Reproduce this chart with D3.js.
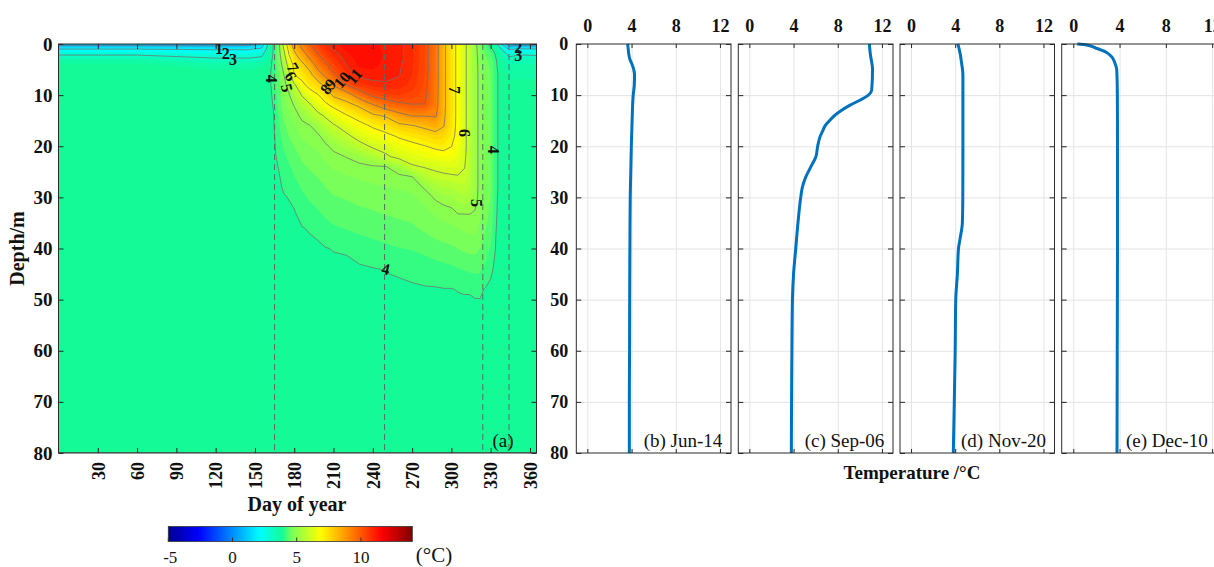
<!DOCTYPE html>
<html>
<head>
<meta charset="utf-8">
<script src="https://cdn.jsdelivr.net/npm/d3@7"></script>
<style>
  body { margin: 0; background: #fff; }
  svg { display: block; }
  text { font-family: "Liberation Serif", "Times New Roman", serif; }
  .axis path { display: none; }
  .axis line { stroke: #262626; }
  .axis text { font-family: "Liberation Serif", serif; font-size: 18px; font-weight: bold; fill: #111; }
  .grid path { display: none; }
  .grid line { stroke: #e4e4e4; }
  .frame { fill: none; stroke: #2b2b2b; stroke-width: 1; }
  .iso { fill: none; stroke: #707070; stroke-width: 0.75; }
  .clabel { font-size: 16px; font-weight: bold; fill: #111; }
  .sample { stroke: #5c6b6b; stroke-width: 1; stroke-dasharray: 6 4; }
  .profile { fill: none; stroke: #0072bd; stroke-width: 3; stroke-linejoin: round; }
  .title { font-weight: bold; fill: #111; }
  .note { fill: #111; }
</style>
</head>
<body>
<svg width="1214" height="567"></svg>
<script>
// ---- temperature field (a): one row per day, one value per depth ----
const days = [0, 60, 120, 145, 155, 160, 164, 168, 172, 176, 180, 186, 192, 198, 204, 210, 220, 230, 240,
  250, 260, 270, 280, 288, 294, 300, 305, 310, 314, 318, 322, 326, 330, 334, 338, 344, 352, 365];
const depths = [0, 1, 2, 3, 4, 6, 8, 10, 12, 14, 16, 18, 20, 22, 24, 26, 28, 30, 33, 36, 40, 44, 48, 52, 60, 80];

const tempGrid = [
  [0.5, 2.0, 2.9, 3.5, 3.8, 3.9, 3.9, 3.9, 3.9, 3.9, 3.9, 3.9, 3.9, 3.9, 3.9, 3.9, 3.9, 3.9, 3.9, 3.9, 3.9, 3.9, 3.9, 3.9, 3.9, 3.9],
  [0.5, 2.0, 2.9, 3.5, 3.8, 3.9, 3.9, 3.9, 3.9, 3.9, 3.9, 3.9, 3.9, 3.9, 3.9, 3.9, 3.9, 3.9, 3.9, 3.9, 3.9, 3.9, 3.9, 3.9, 3.9, 3.9],
  [0.5, 1.9, 2.7, 3.1, 3.6, 3.9, 3.9, 3.9, 3.9, 3.9, 3.9, 3.9, 3.9, 3.9, 3.9, 3.9, 3.9, 3.9, 3.9, 3.9, 3.9, 3.9, 3.9, 3.9, 3.9, 3.9],
  [0.6, 1.9, 2.7, 3.1, 3.6, 3.9, 3.9, 3.9, 3.9, 3.9, 3.9, 3.9, 3.9, 3.9, 3.9, 3.9, 3.9, 3.9, 3.9, 3.9, 3.9, 3.9, 3.9, 3.9, 3.9, 3.9],
  [1.1, 2.2, 2.8, 3.2, 3.7, 3.9, 3.9, 3.9, 3.9, 3.9, 3.9, 3.9, 3.9, 3.9, 3.9, 3.9, 3.9, 3.9, 3.9, 3.9, 3.9, 3.9, 3.9, 3.9, 3.9, 3.9],
  [3.05, 3.3, 3.5, 3.7, 3.8, 3.9, 3.9, 3.9, 3.9, 3.9, 3.9, 3.9, 3.9, 3.9, 3.9, 3.9, 3.9, 3.9, 3.9, 3.9, 3.9, 3.9, 3.9, 3.9, 3.9, 3.9],
  [4.01, 4.02, 4.05, 4.08, 4.1, 4.1, 4.08, 4.04, 4.01, 3.98, 3.96, 3.95, 3.94, 3.93, 3.92, 3.91, 3.9, 3.9, 3.9, 3.9, 3.9, 3.9, 3.9, 3.9, 3.9, 3.9],
  [4.7, 4.7, 4.65, 4.6, 4.55, 4.45, 4.4, 4.35, 4.3, 4.25, 4.2, 4.15, 4.1, 4.06, 4.01, 3.97, 3.95, 3.93, 3.91, 3.9, 3.9, 3.9, 3.9, 3.9, 3.9, 3.9],
  [6.3, 6.0, 5.75, 5.5, 5.3, 4.98, 4.85, 4.75, 4.65, 4.55, 4.45, 4.35, 4.28, 4.2, 4.14, 4.08, 4.03, 3.98, 3.95, 3.92, 3.9, 3.9, 3.9, 3.9, 3.9, 3.9],
  [7.6, 7.3, 7.02, 6.7, 6.4, 5.8, 5.2, 4.95, 4.85, 4.7, 4.6, 4.5, 4.4, 4.3, 4.22, 4.14, 4.07, 4.01, 3.96, 3.93, 3.91, 3.9, 3.9, 3.9, 3.9, 3.9],
  [8.4, 8.1, 7.8, 7.5, 7.25, 6.98, 5.85, 5.4, 5.02, 4.85, 4.72, 4.6, 4.5, 4.4, 4.32, 4.24, 4.15, 4.06, 3.98, 3.94, 3.92, 3.9, 3.9, 3.9, 3.9, 3.9],
  [9.3, 9.0, 8.6, 8.2, 7.8, 7.3, 6.8, 6.05, 5.55, 5.1, 4.9, 4.78, 4.66, 4.55, 4.45, 4.37, 4.28, 4.2, 4.1, 3.99, 3.94, 3.92, 3.9, 3.9, 3.9, 3.9],
  [10.02, 9.7, 9.35, 8.98, 8.45, 7.75, 7.3, 6.6, 5.9, 5.4, 4.98, 4.85, 4.74, 4.63, 4.53, 4.45, 4.37, 4.28, 4.17, 4.02, 3.95, 3.92, 3.9, 3.9, 3.9, 3.9],
  [10.5, 10.25, 9.98, 9.7, 9.4, 8.6, 7.6, 6.95, 6.4, 5.8, 5.25, 4.92, 4.8, 4.7, 4.6, 4.5, 4.42, 4.34, 4.22, 4.06, 3.96, 3.93, 3.91, 3.9, 3.9, 3.9],
  [10.95, 10.75, 10.5, 10.2, 9.9, 9.2, 8.25, 7.4, 6.85, 6.1, 5.65, 5.2, 4.93, 4.82, 4.7, 4.6, 4.5, 4.42, 4.3, 4.17, 3.99, 3.94, 3.92, 3.9, 3.9, 3.9],
  [11.2, 11.02, 10.85, 10.65, 10.45, 9.9, 9.1, 8.15, 7.15, 6.5, 5.9, 5.5, 5.1, 4.9, 4.78, 4.67, 4.57, 4.48, 4.36, 4.22, 4.01, 3.95, 3.92, 3.9, 3.9, 3.9],
  [11.35, 11.3, 11.2, 11.12, 11.02, 10.7, 10.05, 8.5, 7.7, 6.95, 6.35, 5.85, 5.4, 5.02, 4.85, 4.73, 4.62, 4.52, 4.4, 4.27, 4.02, 3.96, 3.92, 3.9, 3.9, 3.9],
  [11.4, 11.4, 11.4, 11.35, 11.3, 11.15, 10.6, 9.5, 8.15, 7.35, 6.75, 6.3, 5.75, 5.2, 4.9, 4.78, 4.67, 4.57, 4.45, 4.32, 4.1, 3.97, 3.93, 3.91, 3.9, 3.9],
  [11.4, 11.4, 11.4, 11.35, 11.3, 11.2, 10.85, 10.15, 8.9, 7.85, 7.1, 6.6, 6.1, 5.5, 4.95, 4.82, 4.71, 4.6, 4.48, 4.36, 4.15, 3.99, 3.94, 3.92, 3.9, 3.9],
  [11.1, 11.15, 11.2, 11.2, 11.2, 11.1, 10.95, 10.4, 9.5, 8.1, 7.4, 6.8, 6.25, 5.9, 4.98, 4.85, 4.74, 4.63, 4.52, 4.4, 4.2, 4.01, 3.95, 3.92, 3.9, 3.9],
  [11.1, 11.1, 11.1, 11.1, 11.05, 11.02, 10.9, 10.5, 9.8, 8.7, 7.8, 7.1, 6.6, 6.2, 5.3, 4.9, 4.78, 4.67, 4.55, 4.43, 4.24, 4.03, 3.96, 3.92, 3.9, 3.9],
  [10.8, 10.8, 10.8, 10.8, 10.8, 10.75, 10.65, 10.4, 9.95, 9.05, 7.95, 7.3, 6.8, 6.4, 5.9, 4.98, 4.82, 4.71, 4.58, 4.46, 4.27, 4.06, 3.97, 3.93, 3.9, 3.9],
  [10.25, 10.25, 10.25, 10.25, 10.25, 10.22, 10.18, 10.12, 9.98, 9.05, 8.2, 7.5, 6.98, 6.55, 6.05, 5.6, 5.05, 4.85, 4.68, 4.55, 4.33, 4.1, 3.98, 3.93, 3.9, 3.9],
  [9.4, 9.4, 9.4, 9.4, 9.4, 9.4, 9.38, 9.35, 9.3, 9.1, 8.4, 7.7, 7.15, 6.65, 6.15, 5.8, 5.4, 5.05, 4.8, 4.62, 4.4, 4.14, 3.98, 3.93, 3.9, 3.9],
  [8.2, 8.2, 8.2, 8.2, 8.2, 8.2, 8.2, 8.2, 8.2, 8.15, 8.05, 7.6, 7.2, 6.75, 6.25, 5.85, 5.5, 5.15, 4.85, 4.66, 4.43, 4.17, 3.99, 3.93, 3.9, 3.9],
  [7.4, 7.4, 7.4, 7.4, 7.4, 7.4, 7.4, 7.4, 7.4, 7.4, 7.35, 7.2, 7.02, 6.7, 6.3, 5.9, 5.55, 5.2, 4.9, 4.7, 4.46, 4.2, 3.99, 3.93, 3.9, 3.9],
  [6.8, 6.8, 6.8, 6.8, 6.8, 6.8, 6.8, 6.8, 6.8, 6.8, 6.8, 6.8, 6.7, 6.5, 6.25, 5.95, 5.65, 5.35, 5.02, 4.75, 4.5, 4.24, 4.01, 3.94, 3.9, 3.9],
  [6.15, 6.15, 6.15, 6.15, 6.15, 6.15, 6.15, 6.15, 6.15, 6.15, 6.15, 6.15, 6.15, 6.1, 6.02, 5.9, 5.7, 5.45, 5.02, 4.8, 4.55, 4.27, 4.02, 3.94, 3.9, 3.9],
  [5.7, 5.7, 5.7, 5.7, 5.7, 5.7, 5.7, 5.7, 5.7, 5.7, 5.7, 5.7, 5.7, 5.7, 5.7, 5.65, 5.55, 5.35, 5.02, 4.82, 4.57, 4.3, 4.02, 3.94, 3.9, 3.9],
  [5.2, 5.2, 5.2, 5.2, 5.2, 5.2, 5.2, 5.2, 5.2, 5.2, 5.2, 5.2, 5.2, 5.2, 5.2, 5.2, 5.2, 5.15, 4.97, 4.82, 4.58, 4.32, 4.04, 3.95, 3.9, 3.9],
  [4.6, 4.7, 4.75, 4.8, 4.82, 4.85, 4.85, 4.85, 4.85, 4.85, 4.85, 4.85, 4.85, 4.85, 4.85, 4.85, 4.85, 4.85, 4.8, 4.7, 4.5, 4.3, 4.04, 3.95, 3.9, 3.9],
  [4.2, 4.35, 4.45, 4.55, 4.6, 4.65, 4.65, 4.65, 4.65, 4.65, 4.65, 4.65, 4.65, 4.65, 4.65, 4.65, 4.65, 4.65, 4.6, 4.52, 4.38, 4.2, 3.98, 3.93, 3.9, 3.9],
  [3.8, 4.1, 4.3, 4.4, 4.45, 4.5, 4.5, 4.5, 4.5, 4.5, 4.5, 4.5, 4.5, 4.5, 4.5, 4.5, 4.5, 4.48, 4.42, 4.35, 4.22, 4.05, 3.95, 3.92, 3.9, 3.9],
  [3.3, 3.8, 3.95, 4.02, 4.05, 4.07, 4.07, 4.07, 4.07, 4.07, 4.07, 4.07, 4.07, 4.07, 4.07, 4.07, 4.07, 4.05, 4.03, 4.01, 3.98, 3.94, 3.92, 3.91, 3.9, 3.9],
  [2.0, 3.02, 3.5, 3.7, 3.8, 3.88, 3.88, 3.88, 3.88, 3.88, 3.88, 3.88, 3.88, 3.88, 3.88, 3.88, 3.88, 3.88, 3.88, 3.88, 3.88, 3.88, 3.88, 3.88, 3.88, 3.88],
  [0.4, 1.9, 2.8, 3.2, 3.5, 3.7, 3.8, 3.8, 3.8, 3.8, 3.8, 3.8, 3.8, 3.8, 3.8, 3.8, 3.8, 3.8, 3.8, 3.8, 3.8, 3.8, 3.8, 3.8, 3.8, 3.8],
  [0.5, 2.1, 2.95, 3.3, 3.55, 3.72, 3.8, 3.8, 3.8, 3.8, 3.8, 3.8, 3.8, 3.8, 3.8, 3.8, 3.8, 3.8, 3.8, 3.8, 3.8, 3.8, 3.8, 3.8, 3.8, 3.8],
  [0.4, 2.02, 2.9, 3.3, 3.5, 3.7, 3.8, 3.8, 3.8, 3.8, 3.8, 3.8, 3.8, 3.8, 3.8, 3.8, 3.8, 3.8, 3.8, 3.8, 3.8, 3.8, 3.8, 3.8, 3.8, 3.8]
];

const isoLevels = [1, 2, 3, 4, 5, 6, 7, 8, 9, 10, 11];
const dayTicks = [30, 60, 90, 120, 150, 180, 210, 240, 270, 300, 330, 360];
const depthTicks = [0, 10, 20, 30, 40, 50, 60, 70, 80];
const sampleDays = [165, 249, 324, 344];
const colorTicks = [-5, 0, 5, 10];
const tempTicks = [0, 4, 8, 12];

// contour labels: level text, day, depth, angle
const isoLabels = [
  ["1", 122.5, 0.8, 0], ["2", 127.8, 1.8, 0], ["3", 133.2, 3.1, 0],
  ["4", 163, 6.8, 90], ["7", 179, 4.6, 60], ["6", 177.5, 6.3, 60], ["5", 174.4, 8.6, 75],
  ["8", 204, 8.8, -50], ["9", 207.5, 7.8, -50], ["10", 216.4, 7.0, -50], ["11", 225.6, 6.3, -50],
  ["7", 302.8, 9.0, 90], ["6", 310.4, 17.4, 90], ["5", 319.6, 31.1, 90], ["4", 332.5, 20.7, 90],
  ["4", 250, 44, 12], ["2", 351, 0.6, 0], ["3", 351, 2.2, 0]
];

// ---- profiles (b)-(e) ----
const junDepth = [0, 1, 2, 3, 4, 5, 6, 8, 10, 15, 20, 25, 30, 40, 50, 60, 70, 80];
const junTemp = [3.65, 3.7, 3.75, 3.85, 4.05, 4.2, 4.27, 4.25, 4.15, 4.05, 3.98, 3.93, 3.88, 3.85, 3.83, 3.82, 3.8, 3.8];
const sepDepth = [0, 2, 5, 9, 10, 11, 12, 13, 14, 15, 16, 17, 18, 20, 22, 24, 26, 28, 30, 35, 40, 45, 50, 60, 70, 80];
const sepTemp = [10.86, 10.95, 11.15, 11.07, 10.77, 10.0, 9.08, 8.32, 7.7, 7.25, 6.85, 6.64, 6.42, 6.18, 6.03, 5.57, 5.11, 4.8, 4.65, 4.4, 4.2, 4.0, 3.9, 3.85, 3.82, 3.8];
const novDepth = [0, 2, 4, 6, 10, 20, 30, 35, 38, 40, 45, 50, 60, 70, 80];
const novTemp = [4.25, 4.46, 4.6, 4.7, 4.7, 4.7, 4.69, 4.65, 4.45, 4.3, 4.2, 4.05, 4.0, 3.92, 3.83];
const decDepth = [0, 0.2, 0.85, 1.5, 2.5, 3.8, 5.1, 10, 20, 40, 60, 80];
const decTemp = [0.35, 1.16, 2.02, 2.75, 3.32, 3.61, 3.76, 3.81, 3.82, 3.82, 3.8, 3.78];

const profiles = [
  { name: "(b) Jun-14", depth: junDepth, temp: junTemp },
  { name: "(c) Sep-06", depth: sepDepth, temp: sepTemp },
  { name: "(d) Nov-20", depth: novDepth, temp: novTemp },
  { name: "(e) Dec-10", depth: decDepth, temp: decTemp }
];

// ---- layout ----
const svg = d3.select("svg");
const plotTop = 44, plotBottom = 453;
const aLeft = 58.5, aRight = 536.5;

const x = d3.scaleLinear().domain([0, 365]).range([aLeft, aRight]);
const y = d3.scaleLinear().domain([0, 80]).range([plotTop, plotBottom]);

// jet-like colour map
const jet = d3.scaleLinear()
  .domain([-5, -2.625, 2.125, 3.9, 4.6, 6.875, 11.625, 14])
  .range(["#00008f", "#0000ff", "#00ffff", "#14fa96", "#78ff5a", "#ffff00", "#ff0000", "#800000"])
  .clamp(true);

const defs = svg.append("defs");
defs.append("clipPath").attr("id", "clipA")
  .append("rect")
  .attr("x", aLeft).attr("y", plotTop)
  .attr("width", aRight - aLeft).attr("height", plotBottom - plotTop);

// ---- panel (a): filled contours ----
const nx = days.length, ny = depths.length;
const values = [];
for (let j = 0; j < ny; j++) {
  for (let i = 0; i < nx; i++) values.push(tempGrid[i][j]);
}

const dayAt = d3.scaleLinear().domain(d3.range(nx)).range(days).clamp(true);
const depthAt = d3.scaleLinear().domain(d3.range(ny)).range(depths).clamp(true);
const toScreen = d3.geoTransform({
  point(px, py) {
    this.stream.point(x(dayAt(px - 0.5)), y(depthAt(py - 0.5)));
  }
});
const path = d3.geoPath(toScreen);

const plotA = svg.append("g").attr("clip-path", "url(#clipA)");

const bandLevels = d3.range(0, 11.5, 0.25);
plotA.append("g")
  .selectAll("path")
  .data(d3.contours().size([nx, ny]).thresholds(bandLevels)(values))
  .join("path")
  .attr("d", path)
  .attr("fill", d => jet(d.value + 0.125));

plotA.append("g")
  .selectAll("path")
  .data(d3.contours().size([nx, ny]).thresholds(isoLevels)(values))
  .join("path")
  .attr("class", "iso")
  .attr("d", path);

// sampling dates
plotA.append("g")
  .selectAll("line")
  .data(sampleDays)
  .join("line")
  .attr("class", "sample")
  .attr("x1", d => x(d)).attr("x2", d => x(d))
  .attr("y1", plotTop).attr("y2", plotBottom);

// contour labels
plotA.append("g")
  .selectAll("text")
  .data(isoLabels)
  .join("text")
  .attr("class", "clabel")
  .attr("text-anchor", "middle")
  .attr("dy", "0.35em")
  .attr("transform", d => `translate(${x(d[1])},${y(d[2])}) rotate(${d[3]})`)
  .text(d => d[0]);

// axes of (a)
svg.append("g")
  .attr("class", "axis")
  .attr("transform", `translate(${aLeft},0)`)
  .call(d3.axisLeft(y).tickValues(depthTicks).tickSize(-5).tickPadding(6))
  .selectAll("text").style("font-size", "19px");

svg.append("g")
  .attr("class", "axis")
  .attr("transform", `translate(${aRight},0)`)
  .call(d3.axisRight(y).tickValues(depthTicks).tickSize(-5).tickFormat(""));

svg.append("g")
  .attr("class", "axis")
  .attr("transform", `translate(0,${plotTop})`)
  .call(d3.axisTop(x).tickValues(dayTicks).tickSize(-5).tickFormat(""));

svg.append("g")
  .attr("class", "axis")
  .attr("transform", `translate(0,${plotBottom})`)
  .call(d3.axisBottom(x).tickValues(dayTicks).tickSize(-5))
  .selectAll("text")
  .attr("transform", "rotate(-90)")
  .attr("text-anchor", "end")
  .attr("x", -9)
  .attr("y", 0)
  .attr("dy", "0.35em");

svg.append("rect")
  .attr("class", "frame")
  .attr("x", aLeft).attr("y", plotTop)
  .attr("width", aRight - aLeft).attr("height", plotBottom - plotTop);

svg.append("text")
  .attr("class", "note")
  .attr("x", 503).attr("y", 447)
  .attr("text-anchor", "middle")
  .style("font-size", "19px")
  .text("(a)");

svg.append("text")
  .attr("class", "title")
  .attr("transform", `translate(24,${(plotTop + plotBottom) / 2}) rotate(-90)`)
  .attr("text-anchor", "middle")
  .style("font-size", "20px")
  .text("Depth/m");

svg.append("text")
  .attr("class", "title")
  .attr("x", 297).attr("y", 511)
  .attr("text-anchor", "middle")
  .style("font-size", "20px")
  .text("Day of year");

// ---- colour bar ----
const cb = d3.scaleLinear().domain([-5, 14]).range([168.3, 412.3]);
const cbTop = 526.5, cbBottom = 541.5;
const grad = defs.append("linearGradient").attr("id", "jetGrad");
grad.selectAll("stop")
  .data(d3.range(-5, 14.01, 0.25))
  .join("stop")
  .attr("offset", d => (d + 5) / 19)
  .attr("stop-color", d => jet(d));

svg.append("rect")
  .attr("x", cb(-5)).attr("y", cbTop)
  .attr("width", cb(14) - cb(-5)).attr("height", cbBottom - cbTop)
  .attr("fill", "url(#jetGrad)")
  .attr("stroke", "#333").attr("stroke-width", 0.8);

svg.append("g")
  .selectAll("line")
  .data(colorTicks)
  .join("line")
  .attr("x1", d => cb(d)).attr("x2", d => cb(d))
  .attr("y1", cbBottom).attr("y2", cbBottom - 4)
  .attr("stroke", "#333");

svg.append("g")
  .selectAll("text")
  .data(colorTicks)
  .join("text")
  .attr("class", "note")
  .attr("x", d => cb(d) + (d < 0 ? 2 : 0))
  .attr("y", 563)
  .attr("text-anchor", "middle")
  .style("font-size", "17px")
  .text(d => d);

svg.append("text")
  .attr("class", "note")
  .attr("x", 434).attr("y", 562)
  .attr("text-anchor", "middle")
  .style("font-size", "21px")
  .text("(\u00B0C)");

// ---- panels (b)-(e) ----
const panelLeft = [576.3, 738.3, 900, 1061.7];
const panelWidth = [154.7, 154.7, 154.5, 162];

profiles.forEach((p, k) => {
  const px = d3.scaleLinear().domain([-1, 13]).range([panelLeft[k], panelLeft[k] + panelWidth[k]]);
  const g = svg.append("g");

  // grid
  g.append("g")
    .attr("class", "grid")
    .attr("transform", `translate(0,${plotBottom})`)
    .call(d3.axisBottom(px).tickValues(tempTicks).tickSize(-(plotBottom - plotTop)).tickFormat(""));
  g.append("g")
    .attr("class", "grid")
    .attr("transform", `translate(${panelLeft[k]},0)`)
    .call(d3.axisLeft(y).tickValues(depthTicks.slice(1, -1)).tickSize(-panelWidth[k]).tickFormat(""));

  // profile
  const line = d3.line()
    .curve(d3.curveMonotoneY)
    .x(d => px(d[1]))
    .y(d => y(d[0]));
  g.append("path")
    .attr("class", "profile")
    .attr("d", line(d3.zip(p.depth, p.temp)));

  // ticks and labels
  g.append("g")
    .attr("class", "axis")
    .attr("transform", `translate(0,${plotTop})`)
    .call(d3.axisTop(px).tickValues(tempTicks).tickSize(-4).tickPadding(12));
  g.append("g")
    .attr("class", "axis")
    .attr("transform", `translate(0,${plotBottom})`)
    .call(d3.axisBottom(px).tickValues(tempTicks).tickSize(-4).tickFormat(""));
  g.append("g")
    .attr("class", "axis")
    .attr("transform", `translate(${panelLeft[k]},0)`)
    .call(d3.axisLeft(y).tickValues(depthTicks).tickSize(-5).tickPadding(8)
      .tickFormat(k === 0 ? d3.format("d") : ""));
  g.append("g")
    .attr("class", "axis")
    .attr("transform", `translate(${panelLeft[k] + panelWidth[k]},0)`)
    .call(d3.axisRight(y).tickValues(depthTicks).tickSize(-5).tickFormat(""));

  g.append("rect")
    .attr("class", "frame")
    .attr("x", panelLeft[k]).attr("y", plotTop)
    .attr("width", panelWidth[k]).attr("height", plotBottom - plotTop)
    .attr("stroke", "#555");

  g.append("text")
    .attr("class", "note")
    .attr("x", panelLeft[k] + 146)
    .attr("y", 447)
    .attr("text-anchor", "end")
    .style("font-size", "19px")
    .text(p.name);
});

svg.append("text")
  .attr("class", "title")
  .attr("x", 912).attr("y", 479)
  .attr("text-anchor", "middle")
  .style("font-size", "19px")
  .text("Temperature /\u00B0C");
</script>
</body>
</html>
